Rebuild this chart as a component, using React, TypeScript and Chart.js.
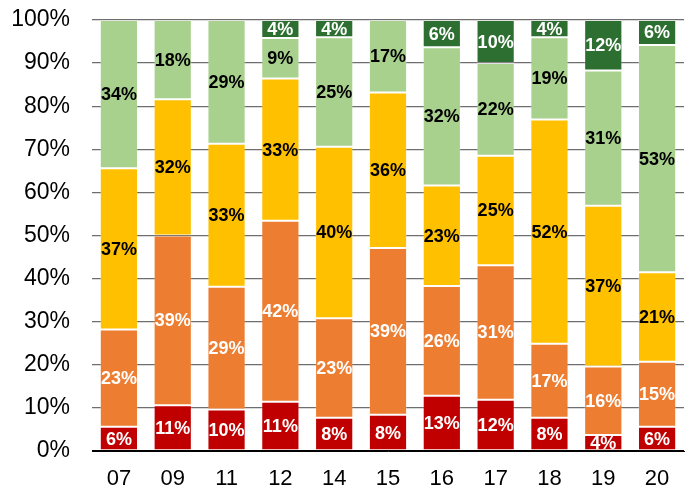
import React, { useEffect, useRef } from "react";
import { Chart, registerables } from "chart.js";

Chart.register(...registerables);

const categories = ["07", "09", "11", "12", "14", "15", "16", "17", "18", "19", "20"];
const redValues = [5.6, 10.6, 9.6, 11.4, 7.7, 8.4, 12.8, 11.9, 7.7, 3.7, 5.6];
const orangeValues = [22.6, 39.4, 28.5, 42.0, 23.1, 38.7, 25.5, 31.2, 17.2, 15.9, 15.1];
const yellowValues = [37.4, 31.6, 33.2, 33.0, 39.8, 36.1, 23.3, 25.4, 52.0, 37.3, 20.8];
const lightGreenValues = [34.4, 18.4, 28.7, 9.4, 25.4, 16.8, 32.1, 21.5, 19.1, 31.4, 52.7];
const darkGreenValues = [0, 0, 0, 4.2, 4.0, 0, 6.3, 10.0, 4.0, 11.7, 5.8];
const yTickLabels = ["0%", "10%", "20%", "30%", "40%", "50%", "60%", "70%", "80%", "90%", "100%"];

const FONT = "'Liberation Sans', Arial, sans-serif";

const labelColors = ["#ffffff", "#ffffff", "#000000", "#000000", "#ffffff"];

const dataLabelPlugin = {
  id: "segLabels",
  afterDatasetsDraw(chart: any) {
    const ctx = chart.ctx;
    ctx.save();
    ctx.font = `bold 18px ${FONT}`;
    ctx.textAlign = "center";
    ctx.textBaseline = "middle";
    chart.data.datasets.forEach((ds: any, di: number) => {
      const meta = chart.getDatasetMeta(di);
      meta.data.forEach((el: any, i: number) => {
        const v = ds.data[i];
        if (!v) return;
        const cy = (el.y + el.base) / 2;
        ctx.fillStyle = labelColors[di];
        ctx.fillText(`${Math.round(v)}%`, el.x, cy + 1);
      });
    });
    ctx.restore();
  },
};

export default function App() {
  const ref = useRef<HTMLCanvasElement | null>(null);
  useEffect(() => {
    if (!ref.current) return;
    const mk = (label: string, data: number[], color: string) => ({
      label,
      data,
      backgroundColor: color,
      borderColor: "rgba(255,255,255,0.18)",
      borderWidth: 1,
      borderSkipped: false,
      barPercentage: 0.71,
      categoryPercentage: 1.0,
    });
    const chart = new Chart(ref.current, {
      type: "bar",
      data: {
        labels: categories,
        datasets: [
          mk("red", redValues, "#C00000"),
          mk("orange", orangeValues, "#ED7D31"),
          mk("yellow", yellowValues, "#FFC000"),
          mk("lightgreen", lightGreenValues, "#A9D18E"),
          mk("darkgreen", darkGreenValues, "#2D6F30"),
        ],
      },
      options: {
        animation: false,
        responsive: true,
        maintainAspectRatio: false,
        layout: { padding: { top: 20, right: 6, left: 0, bottom: 0 } },
        plugins: { legend: { display: false }, tooltip: { enabled: false } },
        scales: {
          x: {
            stacked: true,
            grid: { display: false, drawTicks: false },
            border: { display: true, color: "#000000", width: 1 },
            ticks: { color: "#000000", font: { family: FONT, size: 22 }, padding: 15 },
            afterFit(scale: any) {
              scale.height = 40;
            },
          },
          y: {
            stacked: true,
            min: 0,
            max: 100,
            grid: {
              color: (c: any) => (c.tick && c.tick.value === 0 ? "#000000" : "#6E6E6E"),
              drawTicks: false,
              lineWidth: 1.3,
            },
            border: { display: false },
            ticks: {
              stepSize: 10,
              color: "#000000",
              padding: 22,
              font: { family: FONT, size: 23 },
              callback: (v: any) => yTickLabels[Math.round(Number(v) / 10)],
            },
            afterFit(scale: any) {
              scale.width = 92;
              scale.paddingTop = 0;
              scale.paddingBottom = 0;
            },
          },
        },
      },
      plugins: [dataLabelPlugin],
    });
    return () => chart.destroy();
  }, []);
  return (
    <div style={{ position: "fixed", left: 0, top: 0, width: 690, height: 491, background: "#fff" }}>
      <canvas ref={ref} />
    </div>
  );
}
